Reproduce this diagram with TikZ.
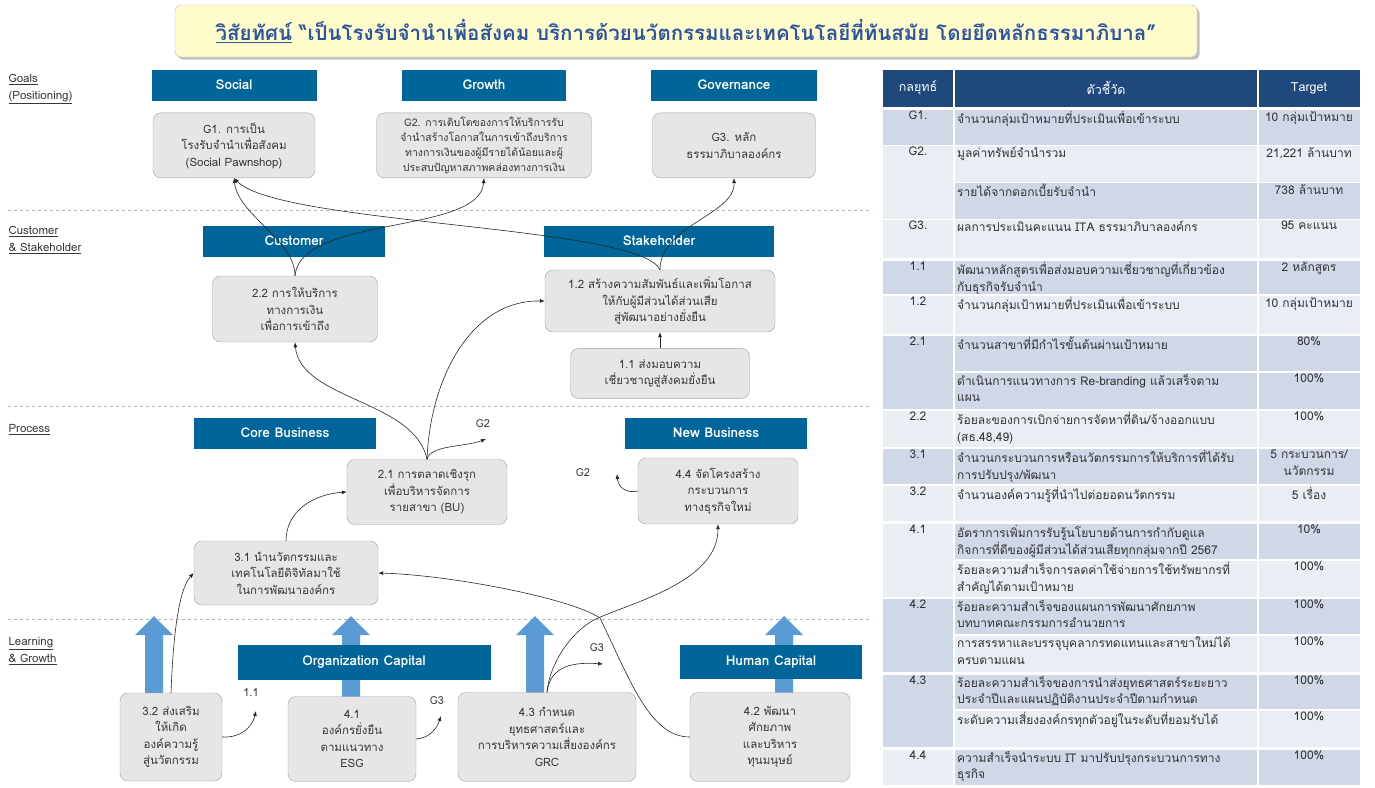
\documentclass[tikz,border=0pt]{standalone}
\usepackage{fontspec}
\setmainfont[Script=Thai]{Loma}
\usetikzlibrary{arrows.meta,positioning,shadows}
\definecolor{hdrblue}{RGB}{0,102,153}
\definecolor{boxfill}{RGB}{230,230,230}
\definecolor{boxline}{RGB}{160,160,160}
\definecolor{capblue}{RGB}{91,155,213}
\definecolor{navy}{RGB}{31,73,125}
\definecolor{rowdark}{RGB}{208,216,232}
\definecolor{rowlight}{RGB}{233,237,244}
\definecolor{visblue}{RGB}{46,84,160}
\definecolor{txtgray}{RGB}{55,55,55}
\tikzset{hdr/.style={fill=hdrblue,text=white,font=\bfseries\fontsize{13.5}{15}\selectfont,
           inner sep=0pt,minimum height=31pt},
         obj/.style={draw=boxline,fill=boxfill,rounded corners=8pt,align=center,
           text=txtgray,font=\fontsize{11.5}{16.5}\selectfont,inner sep=2pt},
         lnk/.style={draw=black!85,line width=0.6pt,-{Latex[length=5pt,width=4pt]}},
         lane/.style={draw=gray!60,dashed,line width=0.6pt},
         lanetxt/.style={anchor=north west,align=left,font=\fontsize{11.5}{17}\selectfont,text=txtgray},
         tag/.style={font=\fontsize{11}{12}\selectfont,text=txtgray},
         kpi/.style={anchor=north west,align=left,font=\fontsize{12}{16.5}\selectfont,
           text=black!80,inner sep=0pt},
         tgt/.style={anchor=north,align=center,font=\fontsize{12}{16.5}\selectfont,
           text=black!80,inner sep=0pt},
         }

\begin{document}
\begin{tikzpicture}[x=1pt,y=-1pt]
\useasboundingbox (0,0) rectangle (1375,787);

% vision
\node[draw=gray!50,fill=yellow!20,rounded corners=6pt,drop shadow,minimum width=1022,
      minimum height=52,font=\bfseries\fontsize{20.5}{22}\selectfont,text=visblue] (vision) at (686,31)
  {\underline{วิสัยทัศน์} “เป็นโรงรับจำนำเพื่อสังคม บริการด้วยนวัตกรรมและเทคโนโลยีที่ทันสมัย โดยยึดหลักธรรมาภิบาล”};

% lanes
\draw[lane] (8,210) -- (872,210);
\draw[lane] (8,406) -- (872,406);
\draw[lane] (8,619) -- (872,619);
\node[lanetxt] (lgoal) at (5,71) {\underline{Goals}\\\underline{(Positioning)}};
\node[lanetxt] (lcust) at (5,223) {\underline{Customer}\\\underline{\& Stakeholder}};
\node[lanetxt] (lproc) at (5,421) {\underline{Process}};
\node[lanetxt] (llearn) at (5,634) {\underline{Learning}\\\underline{\& Growth}};

% big arrows
\foreach \ax/\ab in {154/693,351/697,535/693,784/693}
  \fill[capblue] (\ax-9,\ab) -- (\ax-9,635) -- (\ax-19,635) -- (\ax,616)
                 -- (\ax+19,635) -- (\ax+9,635) -- (\ax+9,\ab) -- cycle;

% headers
\node[hdr,minimum width=165] (social) at (234,85) {Social};
\node[hdr,minimum width=164] (growth) at (484,85) {Growth};
\node[hdr,minimum width=166] (gov) at (734,85) {Governance};
\node[hdr,minimum width=182] (cust) at (294,241) {Customer};
\node[hdr,minimum width=230] (stake) at (659,241) {Stakeholder};
\node[hdr,minimum width=182] (core) at (285,433) {Core Business};
\node[hdr,minimum width=182] (newb) at (716,433) {New Business};
\node[hdr,minimum width=253,minimum height=35] (orgcap) at (364,662) {Organization Capital};
\node[hdr,minimum width=182,minimum height=34] (humcap) at (771,662) {Human Capital};

% objectives
\node[obj,minimum width=162,minimum height=65,below=12pt of social] (g1)
  {G1. การเป็น\\โรงรับจำนำเพื่อสังคม\\(Social Pawnshop)};
\node[obj,minimum width=215,minimum height=65,below=12pt of growth,font=\fontsize{10.5}{15}\selectfont] (g2)
  {G2. การเติบโตของการให้บริการรับ\\จำนำสร้างโอกาสในการเข้าถึงบริการ\\ทางการเงินของผู้มีรายได้น้อยและผู้\\ประสบปัญหาสภาพคล่องทางการเงิน};
\node[obj,minimum width=163,minimum height=65,below=12pt of gov] (g3)
  {G3. หลัก\\ธรรมาภิบาลองค์กร};
\node[obj,minimum width=165,minimum height=66] (c22) at (295,309)
  {2.2 การให้บริการ\\ทางการเงิน\\เพื่อการเข้าถึง};
\node[obj,minimum width=230,minimum height=62] (c12) at (660,301)
  {1.2 สร้างความสัมพันธ์และเพิ่มโอกาส\\ให้กับผู้มีส่วนได้ส่วนเสีย\\สู่พัฒนาอย่างยั่งยืน};
\node[obj,minimum width=179,minimum height=50,below=16pt of c12] (c11)
  {1.1 ส่งมอบความ\\เชี่ยวชาญสู่สังคมยั่งยืน};
\node[obj,minimum width=160,minimum height=65] (c21) at (427,492)
  {2.1 การตลาดเชิงรุก\\เพื่อบริหารจัดการ\\รายสาขา (BU)};
\node[obj,minimum width=160,minimum height=66] (c44) at (718,491)
  {4.4 จัดโครงสร้าง\\กระบวนการ\\ทางธุรกิจใหม่};
\node[obj,minimum width=184,minimum height=64] (c31) at (286,573)
  {3.1 นำนวัตกรรมและ\\เทคโนโลยีดิจิทัลมาใช้\\ในการพัฒนาองค์กร};
\node[obj,minimum width=102,minimum height=88] (c32) at (171,737)
  {3.2 ส่งเสริม\\ให้เกิด\\องค์ความรู้\\สู่นวัตกรรม};
\node[obj,minimum width=128,minimum height=85] (c41) at (352,739)
  {4.1\\องค์กรยั่งยืน\\ตามแนวทาง\\ESG};
\node[obj,minimum width=178,minimum height=89] (c43) at (547,737)
  {4.3 กำหนด\\ยุทธศาสตร์และ\\การบริหารความเสี่ยงองค์กร\\GRC};
\node[obj,minimum width=160,minimum height=89] (c42) at (770,737)
  {4.2 พัฒนา\\ศักยภาพ\\และบริหาร\\ทุนมนุษย์};

% outside targets
\node[tag] (t21) at (483,424) {G2};
\node[tag] (t44) at (583,473) {G2};
\node[tag] (t32) at (251,693) {1.1};
\node[tag] (t41) at (437,701) {G3};
\node[tag] (t43) at (597,648) {G3};
\coordinate (e21) at (486,439);
\coordinate (e44) at (617,474);
\coordinate (e32) at (256,711);
\coordinate (e41) at (441,716);
\coordinate (e43) at (603,664);

% links
\draw[lnk] (c22.north) .. controls (295,240) and (238,215) .. (g1.south);
\draw[lnk] (c22.north) .. controls (300,215) and (480,235) .. (g2.south);
\draw[lnk] (c12.north) .. controls (640,225) and (280,225) .. (g1.south);
\draw[lnk] (c12.north) .. controls (660,225) and (735,215) .. (g3.south);
\draw[lnk] (c11) -- (c12);
\draw[lnk] (c21.north) .. controls (415,400) and (300,400) .. (c22.south);
\draw[lnk] (c21.north) .. controls (430,380) and (470,300) .. (c12.west);
\draw[lnk] (c21.north) .. controls (430,445) and (465,447) .. (e21);
\draw[lnk] (c44.west) .. controls (625,494) and (618,486) .. (e44);
\draw[lnk] (c31.north) .. controls (286,510) and (315,494) .. (c21.west);
\draw[lnk] (c32.north) .. controls (173,640) and (178,590) .. (c31.west);
\draw[lnk] (c32.east) .. controls (240,738) and (252,728) .. (e32);
\draw[lnk] (c41.east) .. controls (430,738) and (437,728) .. (e41);
\draw[lnk] (c43.north) .. controls (550,665) and (575,662) .. (e43);
\draw[lnk] (c43.north) .. controls (550,660) and (575,628) .. (598,618)
           .. controls (640,600) and (718,580) .. (c44.south);
\draw[lnk] (c42.west) .. controls (650,737) and (630,680) .. (600,618)
           .. controls (570,598) and (450,575) .. (c31.east);

% kpi table
\fill[navy] (883,70) rectangle (953,107);
\fill[navy] (955,70) rectangle (1257,107);
\fill[navy] (1259,70) rectangle (1360,107);
\node[text=white,font=\fontsize{12.5}{14}\selectfont] (th1) at (918,88) {กลยุทธ์};
\node[text=white,font=\fontsize{12.5}{14}\selectfont] (th2) at (1106,88) {ตัวชี้วัด};
\node[text=white,font=\fontsize{12.5}{14}\selectfont] (th3) at (1309,88) {Target};

\foreach \ya/\yb/\cl/\lbl in {110/146/rowdark/G1.,146/220/rowlight/G2.,220/259/rowlight/G3.,
    261/295/rowdark/1.1,296/335/rowlight/1.2,336/410/rowdark/2.1,411/448/rowlight/2.2,
    449/485/rowdark/3.1,486/522/rowlight/3.2,524/598/rowlight/4.1,599/673/rowdark/4.2,
    675/748/rowdark/4.3,750/786/rowlight/4.4}{
  \fill[\cl] (883,\ya) rectangle (953,\yb-1.5);
  \node[tgt] at (918,\ya+1) {\lbl};
}
\foreach \ya/\yb/\cl/\kp/\tg in {
    110/146/rowdark/{จำนวนกลุ่มเป้าหมายที่ประเมินเพื่อเข้าระบบ}/{10 กลุ่มเป้าหมาย},
    146/183/rowlight/{มูลค่าทรัพย์จำนำรวม}/{21,221 ล้านบาท},
    183/220/rowdark/{รายได้จากดอกเบี้ยรับจำนำ}/{738 ล้านบาท},
    220/259/rowlight/{ผลการประเมินคะแนน ITA ธรรมาภิบาลองค์กร}/{95 คะแนน},
    261/295/rowdark/{พัฒนาหลักสูตรเพื่อส่งมอบความเชี่ยวชาญที่เกี่ยวข้อง\\กับธุรกิจรับจำนำ}/{2 หลักสูตร},
    296/335/rowlight/{จำนวนกลุ่มเป้าหมายที่ประเมินเพื่อเข้าระบบ}/{10 กลุ่มเป้าหมาย},
    336/372/rowdark/{จำนวนสาขาที่มีกำไรขั้นต้นผ่านเป้าหมาย}/{80\%},
    373/410/rowdark/{ดำเนินการแนวทางการ Re-branding แล้วเสร็จตาม\\แผน}/{100\%},
    411/448/rowlight/{ร้อยละของการเบิกจ่ายการจัดหาที่ดิน/จ้างออกแบบ\\(สธ.48,49)}/{100\%},
    449/485/rowdark/{จำนวนกระบวนการหรือนวัตกรรมการให้บริการที่ได้รับ\\การปรับปรุง/พัฒนา}/{5 กระบวนการ/\\นวัตกรรม},
    486/522/rowlight/{จำนวนองค์ความรู้ที่นำไปต่อยอดนวัตกรรม}/{5 เรื่อง},
    524/560/rowdark/{อัตราการเพิ่มการรับรู้นโยบายด้านการกำกับดูแล\\กิจการที่ดีของผู้มีส่วนได้ส่วนเสียทุกกลุ่มจากปี 2567}/{10\%},
    561/598/rowlight/{ร้อยละความสำเร็จการลดค่าใช้จ่ายการใช้ทรัพยากรที่\\สำคัญได้ตามเป้าหมาย}/{100\%},
    599/635/rowdark/{ร้อยละความสำเร็จของแผนการพัฒนาศักยภาพ\\บทบาทคณะกรรมการอำนวยการ}/{100\%},
    636/673/rowlight/{การสรรหาและบรรจุบุคลากรทดแทนและสาขาใหม่ได้\\ครบตามแผน}/{100\%},
    675/710/rowdark/{ร้อยละความสำเร็จของการนำส่งยุทธศาสตร์ระยะยาว\\ประจำปีและแผนปฏิบัติงานประจำปีตามกำหนด}/{100\%},
    711/748/rowlight/{ระดับความเสี่ยงองค์กรทุกตัวอยู่ในระดับที่ยอมรับได้}/{100\%},
    750/786/rowdark/{ความสำเร็จนำระบบ IT มาปรับปรุงกระบวนการทาง\\ธุรกิจ}/{100\%}}{
  \fill[\cl] (955,\ya) rectangle (1257,\yb-1.5);
  \fill[\cl] (1259,\ya) rectangle (1360,\yb-1.5);
  \node[kpi] at (957,\ya+1) {\kp};
  \node[tgt] at (1309,\ya+1) {\tg};
}
\end{tikzpicture}
\end{document}
